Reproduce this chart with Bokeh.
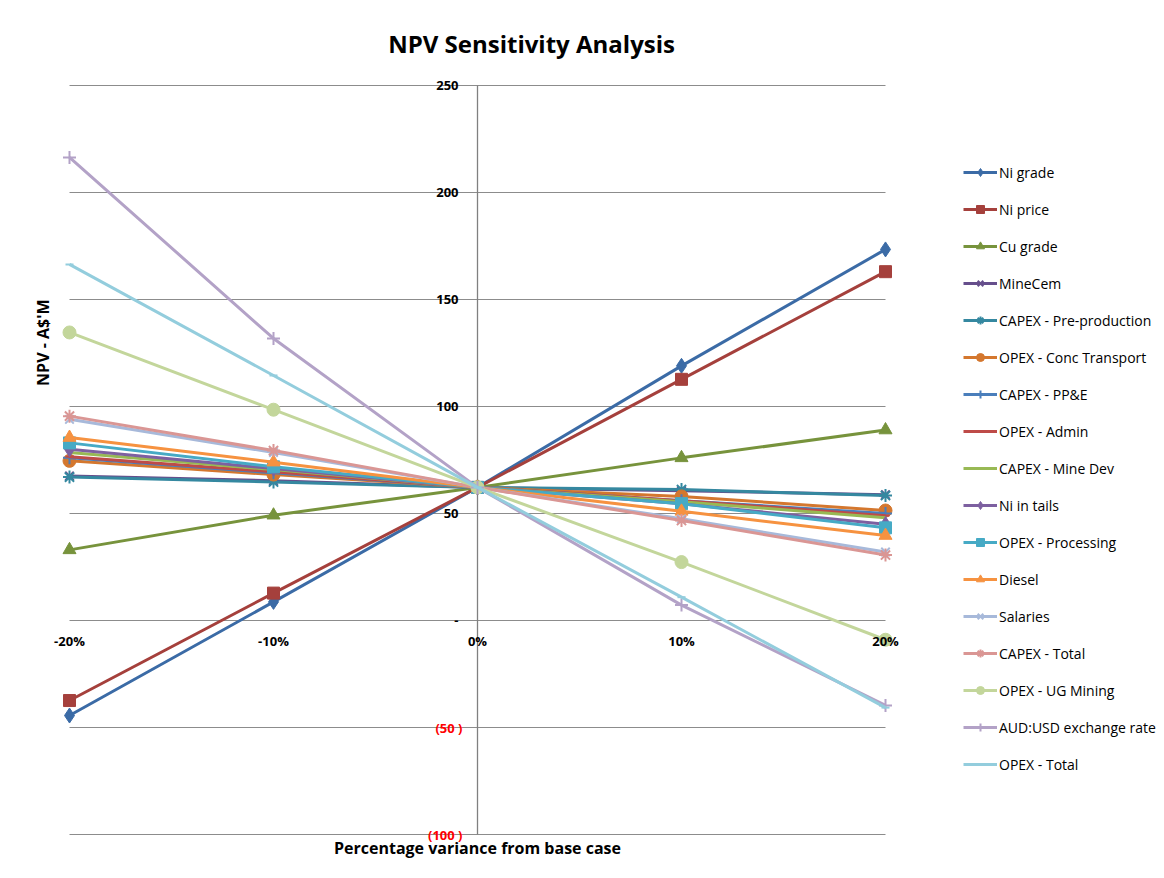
from bokeh.plotting import figure
from bokeh.models import Range1d, Legend, LegendItem, Label
from bokeh.core.properties import value
from bokeh.embed import file_html
from bokeh.resources import INLINE
import math

# ---------------- data ----------------
variance = [-20, -10, 0, 10, 20]
variance_labels = ["-20%", "-10%", "0%", "10%", "20%"]

series_names = [
    "Ni grade", "Ni price", "Cu grade", "MineCem", "CAPEX - Pre-production",
    "OPEX - Conc Transport", "CAPEX - PP&E", "OPEX - Admin", "CAPEX - Mine Dev",
    "Ni in tails", "OPEX - Processing", "Diesel", "Salaries", "CAPEX - Total",
    "OPEX - UG Mining", "AUD:USD exchange rate", "OPEX - Total",
]
ni_grade       = [-44.4, 8.7, 62.2, 119.0, 173.4]
ni_price       = [-37.4, 12.8, 62.2, 112.7, 163.0]
cu_grade       = [33.0, 49.2, 62.2, 76.0, 89.0]
minecem        = [67.5, 65.3, 62.2, 60.6, 58.8]
capex_preprod  = [67.0, 64.7, 62.2, 61.2, 58.4]
opex_conc      = [74.6, 68.2, 62.2, 58.0, 51.4]
capex_ppe      = [76.0, 69.0, 62.2, 56.0, 50.0]
opex_admin     = [76.5, 69.5, 62.2, 56.0, 49.0]
capex_minedev  = [78.5, 70.5, 62.2, 55.5, 48.0]
ni_in_tails    = [80.0, 71.0, 62.2, 54.5, 45.0]
opex_process   = [83.0, 71.8, 62.2, 54.6, 43.3]
diesel         = [85.5, 74.0, 62.2, 51.0, 39.7]
salaries       = [94.0, 78.5, 62.2, 47.5, 32.0]
capex_total    = [95.5, 79.4, 62.2, 46.7, 30.6]
opex_ug_mining = [134.6, 98.5, 62.2, 27.3, -9.0]
aud_usd        = [216.4, 131.8, 62.2, 7.2, -39.7]
opex_total     = [166.4, 114.5, 62.2, 10.9, -40.7]

series_values = [ni_grade, ni_price, cu_grade, minecem, capex_preprod, opex_conc,
                 capex_ppe, opex_admin, capex_minedev, ni_in_tails, opex_process,
                 diesel, salaries, capex_total, opex_ug_mining, aud_usd, opex_total]

y_ticks_pos = [0, 50, 100, 150, 200, 250]
y_tick_labels_pos = ["-", "50", "100", "150", "200", "250"]
y_ticks_neg = [-50, -100]
y_tick_labels_neg = ["(50 )", "(100 )"]
grid_ticks = [-100, -50, 0, 50, 100, 150, 200, 250]

# ---------------- styles ----------------
colors = ["#3B6BA6", "#A5403C", "#77933C", "#664F8C", "#3588A0", "#D4772E",
          "#4A7EBB", "#BE4B48", "#98B954", "#7D60A0", "#46AAC5", "#F69240",
          "#A7B9DA", "#DA9694", "#C3D69B", "#B3A2C7", "#93CDDD"]
markers = ["diamond", "square", "triangle", "x", "asterisk", "circle", "cross",
           "dash", None, "diamond", "square", "triangle", "x", "asterisk",
           "circle", "cross", "dash"]
msizes = {"diamond": 15, "square": 12, "triangle": 13, "x": 12, "asterisk": 13,
          "circle": 13, "cross": 13, "dash": 8}

FONT = "Open Sans"
W, H = 1164, 878
# pixel layout of the plotting area (x: -20..20, y: -100..250)
PX_L, PX_R, PY_T, PY_B = 69, 885, 85, 834
xs = (PX_R - PX_L) / (variance[-1] - variance[0])
ys = (PY_B - PY_T) / (grid_ticks[-1] - grid_ticks[0])
x_range = Range1d(variance[0] - PX_L / xs, variance[-1] + (W - PX_R) / xs)
y_range = Range1d(grid_ticks[0] - (H - PY_B) / ys, grid_ticks[-1] + PY_T / ys)

p = figure(width=W, height=H, min_border=0, x_range=x_range, y_range=y_range,
           output_backend="svg", toolbar_location=None,
           x_axis_type=None, y_axis_type=None)
p.outline_line_color = None
p.xgrid.visible = False
p.ygrid.visible = False
p.background_fill_color = "white"
p.border_fill_color = "white"

# gridlines and vertical axis line
n = len(grid_ticks)
p.segment(x0=[variance[0]] * n, x1=[variance[-1]] * n, y0=grid_ticks, y1=grid_ticks,
          line_color="#8C8C8C", line_width=1)
p.segment(x0=[0], x1=[0], y0=[grid_ticks[0]], y1=[grid_ticks[-1]],
          line_color="#808080", line_width=1.3)

# series
items = []
for name, vals, col, mk in zip(series_names, series_values, colors, markers):
    rs = [p.line(variance, vals, line_color=col, line_width=3)]
    if mk is not None:
        if mk in ("x", "asterisk", "cross", "dash"):
            rs.append(p.scatter(variance, vals, marker=mk, size=msizes[mk],
                                line_color=col, line_width=2, fill_color=col))
        else:
            rs.append(p.scatter(variance, vals, marker=mk, size=msizes[mk],
                                line_color=col, fill_color=col))
    items.append(LegendItem(label=name, renderers=rs))

# tick labels (axes cross at 0,0)
p.text(x=variance, y=[0] * len(variance), text=variance_labels, y_offset=20,
       text_align="center", text_baseline="middle", text_font=value(FONT),
       text_font_style="bold", text_font_size="13px", text_color="black")
p.text(x=[0] * len(y_ticks_pos), y=y_ticks_pos, text=y_tick_labels_pos, x_offset=-19,
       text_align="right", text_baseline="middle", text_font=value(FONT),
       text_font_style="bold", text_font_size="13px", text_color="black")
p.text(x=[0] * len(y_ticks_neg), y=y_ticks_neg, text=y_tick_labels_neg, x_offset=-15,
       text_align="right", text_baseline="middle", text_font=value(FONT),
       text_font_style="bold", text_font_size="13px", text_color="#FF0000")

legend = Legend(items=items, location=(963, 104))
legend.padding = 0
legend.margin = 0
legend.spacing = 17
legend.glyph_width = 34
legend.glyph_height = 20
legend.label_height = 20
legend.label_standoff = 2
legend.label_text_font = FONT
legend.label_text_font_size = "14px"
legend.label_text_color = "black"
legend.background_fill_alpha = 0
legend.border_line_color = None
p.add_layout(legend, "center")

# titles
p.add_layout(Label(x=2.65, y=269.5, text="NPV Sensitivity Analysis",
                   text_align="center", text_baseline="middle",
                   text_font=FONT, text_font_style="bold",
                   text_font_size="24px", text_color="black"))
p.add_layout(Label(x=0, y=-106.5, text="Percentage variance from base case",
                   text_align="center", text_baseline="middle",
                   text_font=FONT, text_font_style="bold",
                   text_font_size="16px", text_color="black"))
p.add_layout(Label(x=-21.32, y=130.8, text="NPV  - A$'M", angle=math.pi / 2,
                   text_align="center", text_baseline="middle",
                   text_font=FONT, text_font_style="bold",
                   text_font_size="16px", text_color="black"))

open("out.html", "w").write(file_html(p, INLINE))
